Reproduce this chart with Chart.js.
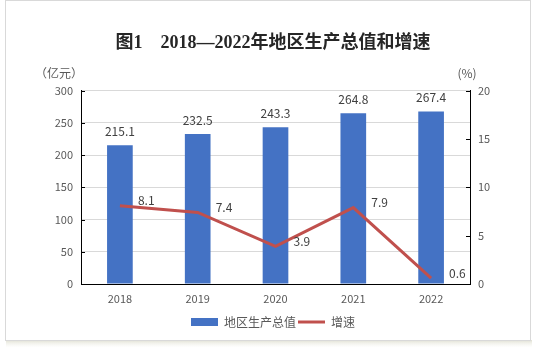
<!DOCTYPE html>
<html><head><meta charset="utf-8">
<script src="https://cdn.jsdelivr.net/npm/chart.js@4/dist/chart.umd.min.js"></script>
<style>html,body{margin:0;padding:0;background:#fff;}#wrap{width:540px;height:352px;position:relative;}</style>
</head><body><div id="wrap"><canvas id="c" width="540" height="352"></canvas></div>
<script>
const categories = ['2018','2019','2020','2021','2022'];
const gdpValues = [215.1, 232.5, 243.3, 264.8, 267.4];
const growthValues = [8.1, 7.4, 3.9, 7.9, 0.6];
const leftTicks = [0, 50, 100, 150, 200, 250, 300];
const rightTicks = [0, 5, 10, 15, 20];
const titleText = '图1　2018—2022年地区生产总值和增速';
const leftUnit = '（亿元）';
const rightUnit = '(%)';
const seriesNames = ['地区生产总值', '增速'];

const FONT = '"Noto Sans CJK SC", "Noto Sans", sans-serif';
const TXT = '#595959';

const decor = {
  id: 'decor',
  beforeDraw(chart) {
    const ctx = chart.ctx;
    ctx.save();
    const g = ctx.createLinearGradient(0, 340, 0, 348);
    g.addColorStop(0, 'rgba(220,220,205,0.9)');
    g.addColorStop(1, 'rgba(245,245,238,0)');
    ctx.fillStyle = g;
    ctx.fillRect(6, 340, 526, 8);
    ctx.strokeStyle = '#d9d9d9';
    ctx.lineWidth = 1;
    ctx.strokeRect(5.5, 0.5, 525, 340);
    ctx.restore();
  },
  afterDraw(chart) {
    const ctx = chart.ctx;
    const a = chart.chartArea;
    const yl = chart.scales.y, yr = chart.scales.y1;
    ctx.save();
    ctx.strokeStyle = '#000';
    ctx.lineWidth = 1;
    ctx.beginPath();
    leftTicks.forEach(v => { const py = Math.round(yl.getPixelForValue(v)) + 0.5; ctx.moveTo(a.left, py); ctx.lineTo(a.left + 4, py); });
    rightTicks.forEach(v => { const py = Math.round(yr.getPixelForValue(v)) + 0.5; ctx.moveTo(a.right - 4, py); ctx.lineTo(a.right, py); });
    ctx.stroke();
    ctx.fillStyle = TXT;
    ctx.font = '12px ' + FONT;
    ctx.textBaseline = 'middle';
    ctx.textAlign = 'center';
    ctx.fillText(leftUnit, 59, 73);
    ctx.fillText(rightUnit, 467, 73);
    ctx.fillStyle = '#404040';
    ctx.font = '12px ' + FONT;
    const barMeta = chart.getDatasetMeta(0);
    barMeta.data.forEach((el, i) => {
      ctx.textAlign = 'center';
      ctx.textBaseline = 'middle';
      ctx.fillText(gdpValues[i].toFixed(1), el.x, el.y - 14);
    });
    const lineMeta = chart.getDatasetMeta(1);
    lineMeta.data.forEach((el, i) => {
      ctx.textAlign = 'left';
      ctx.textBaseline = 'middle';
      ctx.fillText(growthValues[i].toFixed(1), el.x + 18, el.y - 5);
    });
    ctx.restore();
  }
};

new Chart(document.getElementById('c'), {
  data: {
    labels: categories,
    datasets: [
      { type: 'bar', label: seriesNames[0], data: gdpValues, yAxisID: 'y', backgroundColor: '#4472c4', borderWidth: 0,
        barPercentage: 0.33, categoryPercentage: 1, pointStyle: 'rect', order: 2 },
      { type: 'line', label: seriesNames[1], data: growthValues, yAxisID: 'y1', borderColor: '#c0504d', backgroundColor: '#c0504d',
        borderWidth: 3, pointRadius: 0, tension: 0, pointStyle: 'line', order: 1 }
    ]
  },
  options: {
    responsive: false,
    animation: false,
    devicePixelRatio: 1,
    layout: { padding: { left: 6, right: 0, top: 0, bottom: 14 } },
    plugins: {
      title: { display: true, text: titleText, color: '#262626',
        font: { family: '"Liberation Serif", "Noto Sans CJK SC", serif', size: 18, weight: 'bold', lineHeight: 1.2 },
        padding: { top: 33, bottom: 36 } },
      legend: { position: 'bottom',
        labels: { usePointStyle: true, pointStyleWidth: 27, boxHeight: 8, padding: 2, color: TXT,
          font: { family: FONT, size: 12 },
          sort: (a, b) => a.datasetIndex - b.datasetIndex } },
      tooltip: { enabled: false }
    },
    scales: {
      x: {
        grid: { display: false, drawTicks: false },
        border: { display: true, color: '#000', width: 1 },
        ticks: { color: TXT, font: { family: FONT, size: 11 }, padding: 8 },
        afterFit(s) { s.height = 30; }
      },
      y: {
        position: 'left', min: 0, max: 300,
        afterBuildTicks(s) { s.ticks = leftTicks.map(v => ({ value: v })); },
        grid: { color: '#d9d9d9', drawTicks: false },
        border: { display: true, color: '#000', width: 1 },
        ticks: { color: TXT, font: { family: FONT, size: 11 }, padding: 8 },
        afterFit(s) { s.width = 75; }
      },
      y1: {
        position: 'right', min: 0, max: 20,
        afterBuildTicks(s) { s.ticks = rightTicks.map(v => ({ value: v })); },
        grid: { display: false, drawTicks: false },
        border: { display: true, color: '#000', width: 1 },
        ticks: { color: TXT, font: { family: FONT, size: 11 }, padding: 8 },
        afterFit(s) { s.width = 70; }
      }
    }
  },
  plugins: [decor]
});
</script></body></html>
